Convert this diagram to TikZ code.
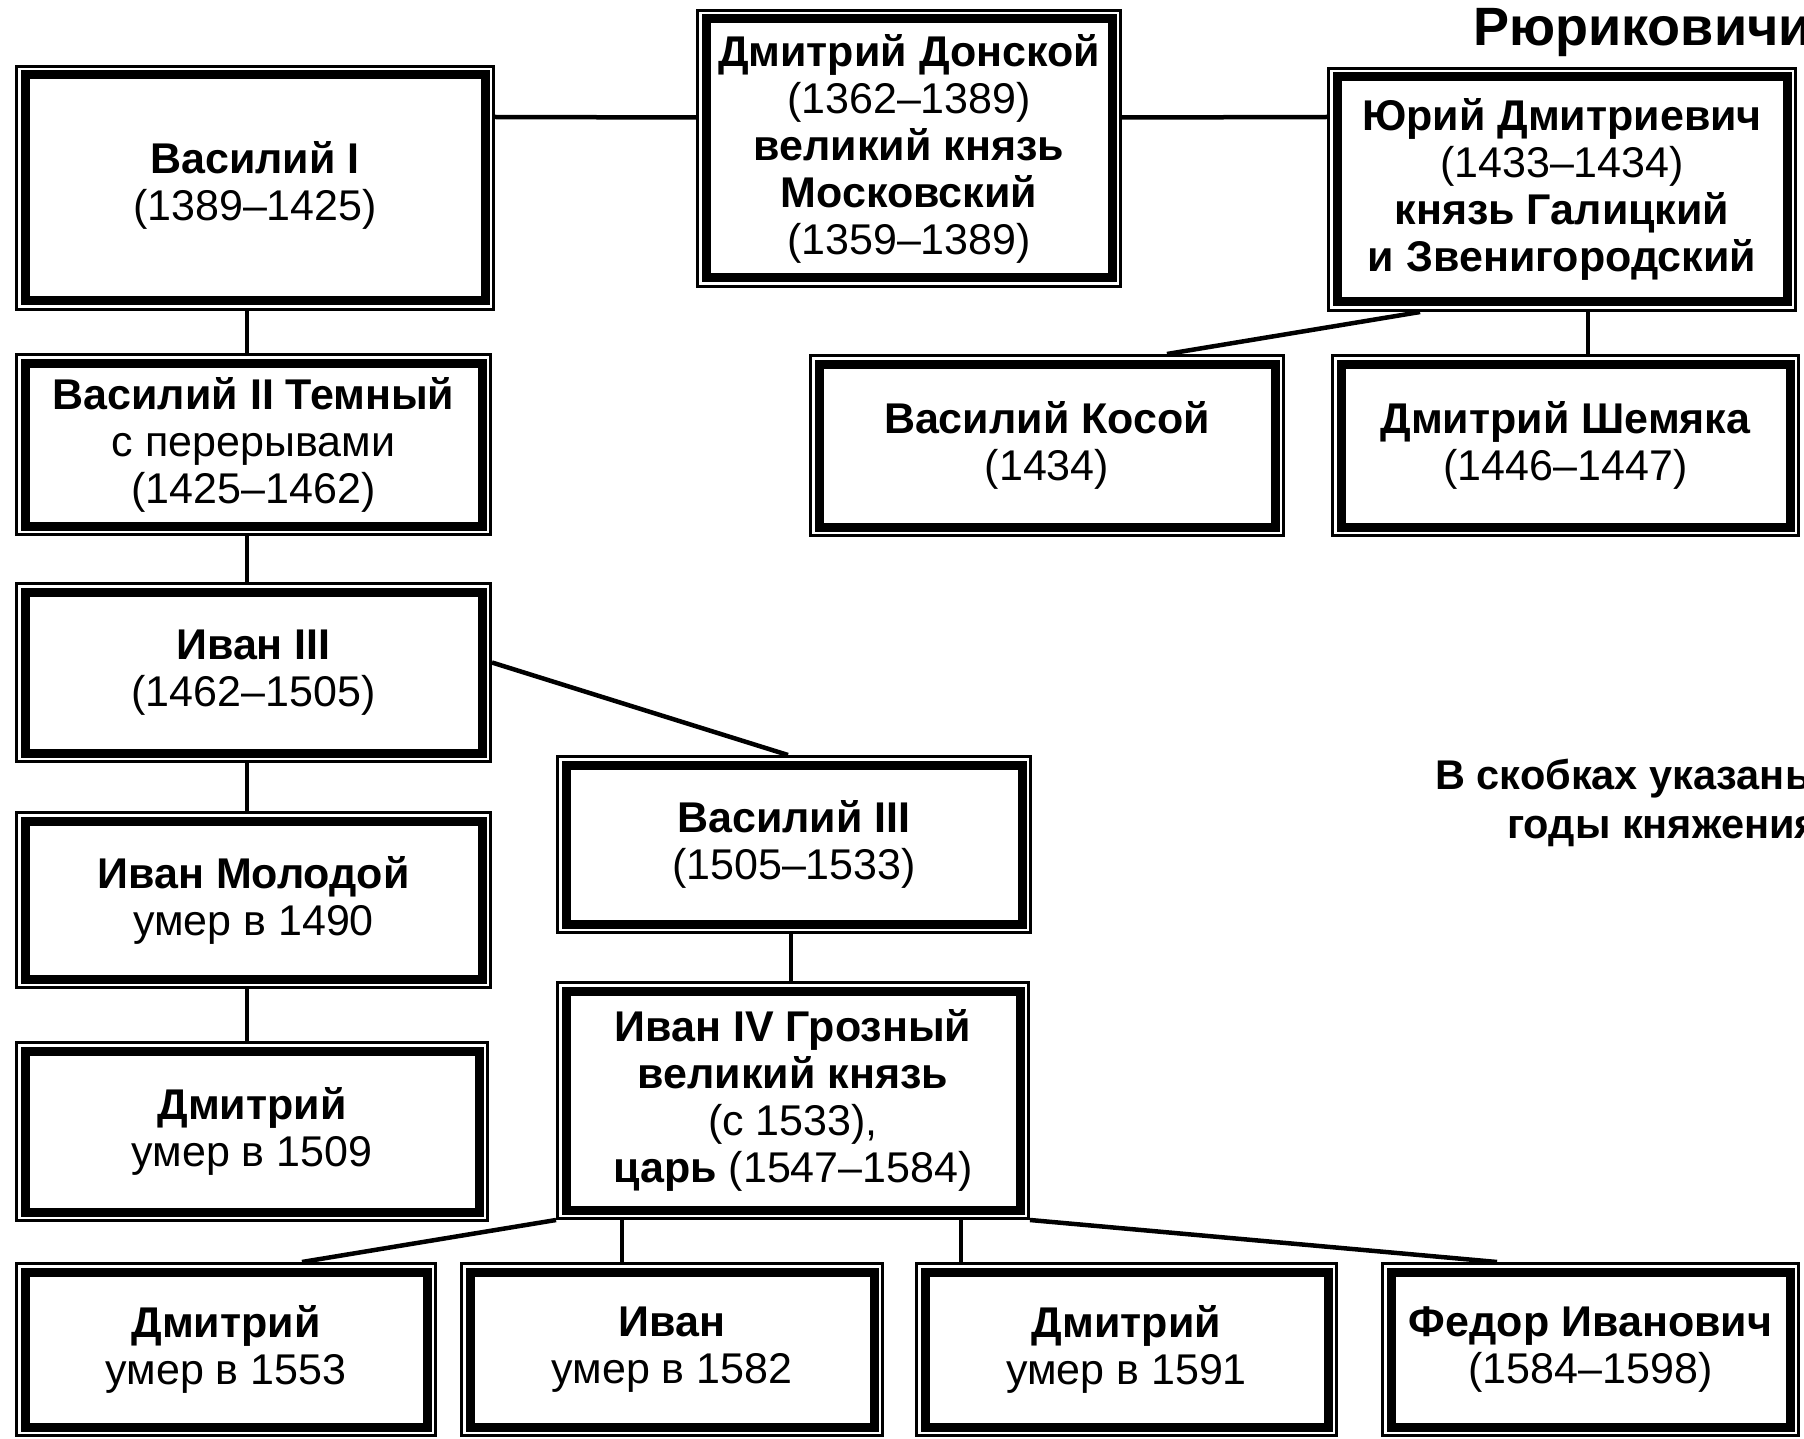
\documentclass[tikz,border=0pt]{standalone}
\usepackage{fontspec}
\setmainfont{Liberation Sans}
\usetikzlibrary{calc}
\tikzset{
  rb/.style={draw, line width=9pt, inner sep=0pt, outer sep=10pt, align=center,
    font=\fontsize{43}{47}\selectfont},
  conn/.style={line width=4.5pt},
  lbl/.style={anchor=base west, inner sep=0pt, font=\bfseries\fontsize{41.5}{47}\selectfont}
}
\newcommand\rkbox[6]{%
  \node[rb, minimum width={#4-#2-20}, minimum height={#5-#3-20}] (#1) at ({(#2+#4)/2},{(#3+#5)/2}) {#6};
  \draw[line width=3pt] ([shift={(1.5pt,-1.5pt)}]#1.north west) rectangle ([shift={(-1.5pt,1.5pt)}]#1.south east);
}
\begin{document}
\begin{tikzpicture}[x=1pt,y=-1pt]
\useasboundingbox (0,0) rectangle (1804,1439);
\clip (0,0) rectangle (1804,1439);
\fill[white] (0,0) rectangle (1804,1439);

\rkbox{v1}{15}{65}{495}{311}{\textbf{Василий I}\\(1389–1425)\\[-33pt]\mbox{}}
\rkbox{don}{696}{9}{1122}{288}{\textbf{Дмитрий Донской}\\(1362–1389)\\\textbf{великий князь}\\\textbf{Московский}\\(1359–1389)}
\rkbox{yury}{1327}{67}{1797}{312}{\textbf{Юрий Дмитриевич}\\(1433–1434)\\\textbf{князь Галицкий}\\\textbf{и Звенигородский}}
\rkbox{v2}{15}{353}{492}{536}{\textbf{Василий II Темный}\\с перерывами\\(1425–1462)}
\rkbox{kos}{809}{354}{1285}{537}{\textbf{Василий Косой}\\(1434)}
\rkbox{shem}{1331}{354}{1800}{537}{\textbf{Дмитрий Шемяка}\\(1446–1447)}
\rkbox{i3}{15}{582}{492}{763}{\textbf{Иван III}\\(1462–1505)}
\rkbox{v3}{556}{755}{1032}{934}{\textbf{Василий III}\\(1505–1533)}
\rkbox{mol}{15}{811}{492}{989}{\textbf{Иван Молодой}\\умер в 1490}
\rkbox{i4}{556}{981}{1030}{1220}{\textbf{Иван IV Грозный}\\\textbf{великий князь}\\(с 1533),\\\textbf{царь} (1547–1584)}
\rkbox{d09}{15}{1041}{489}{1222}{\textbf{Дмитрий}\\умер в 1509}
\rkbox{d53}{15}{1262}{437}{1437}{\textbf{Дмитрий}\\умер в 1553}
\rkbox{iv}{460}{1262}{884}{1437}{\textbf{Иван}\\умер в 1582}
\rkbox{d91}{915}{1262}{1338}{1437}{\textbf{Дмитрий}\\умер в 1591}
\rkbox{fed}{1381}{1262}{1800}{1437}{\textbf{Федор Иванович}\\(1584–1598)}

\node[anchor=base west, inner sep=0pt, font=\bfseries\fontsize{54}{60}\selectfont] (title) at (1473,46) {Рюриковичи};
\node[lbl] (leg1) at (1435,789) {В скобках указаны};
\node[lbl] (leg2) at (1507,838) {годы княжения};

\coordinate (lx) at (247,0);
\draw[conn] ([yshift=71pt]v1.east) -- ([yshift=31pt]don.west);
\draw[conn] ([yshift=31pt]don.east) -- ([yshift=72.5pt]yury.west);
\draw[conn] (v1.south -| lx) -- (v2.north -| lx);
\draw[conn] (v2.south -| lx) -- (i3.north -| lx);
\draw[conn] (i3.south -| lx) -- (mol.north -| lx);
\draw[conn] (mol.south -| lx) -- (d09.north -| lx);
\draw[conn] ([yshift=10pt]i3.east) -- ([xshift=-6pt]v3.north);
\draw[conn] ([xshift=-3pt]v3.south) -- ([xshift=-3pt]v3.south |- i4.north);
\draw[conn] ($(yury.south west)!0.198!(yury.south east)$) -- ($(kos.north west)!0.752!(kos.north east)$);
\draw[conn] ($(yury.south west)!0.555!(yury.south east)$) coordinate (ys) -- (ys |- shem.north);
\draw[conn] (i4.south west) -- ($(d53.north west)!0.68!(d53.north east)$);
\draw[conn] ($(i4.south west)!0.139!(i4.south east)$) coordinate (ia) -- (ia |- iv.north);
\draw[conn] ($(i4.south west)!0.854!(i4.south east)$) coordinate (ib) -- (ib |- d91.north);
\draw[conn] (i4.south east) -- ($(fed.north west)!0.277!(fed.north east)$);
\end{tikzpicture}
\end{document}
